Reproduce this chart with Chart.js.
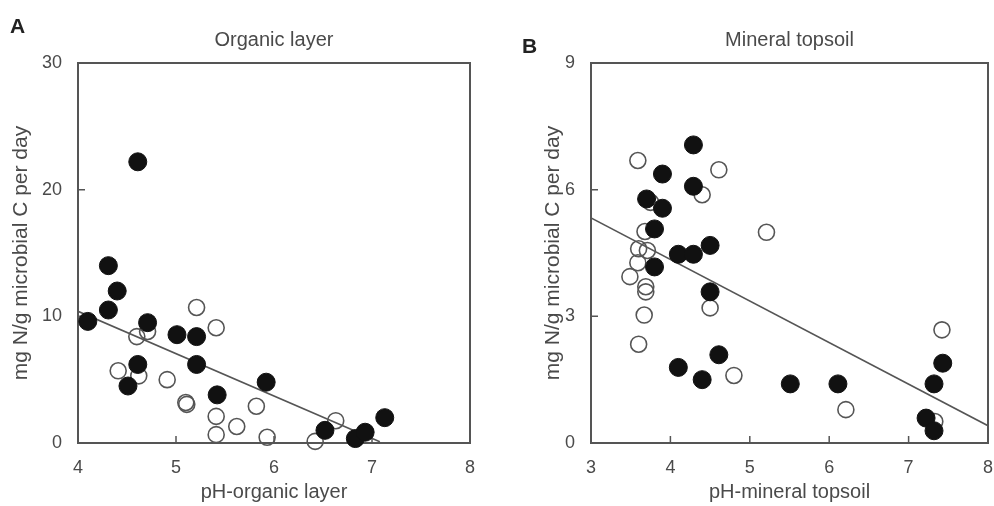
<!DOCTYPE html>
<html>
<head>
<meta charset="utf-8">
<script src="https://cdn.jsdelivr.net/npm/chart.js@4.4.1/dist/chart.umd.min.js"></script>
<style>
  body { margin: 0; background: #fff; overflow: hidden; }
  #wrap { position: relative; width: 994px; height: 506px; overflow: hidden; }
  canvas { position: absolute; top: 0; }
  .panel { position: absolute; font: bold 21px "Liberation Sans", Arial, sans-serif; color: #222; line-height: 1; }
</style>
</head>
<body>
<div id="wrap">
  <canvas id="chartA" width="497" height="506" style="left:0"></canvas>
  <canvas id="chartB" width="501" height="506" style="left:497px"></canvas>
  <div class="panel" style="left:10px;top:15px">A</div>
  <div class="panel" style="left:522px;top:35px">B</div>
</div>
<script>
// A: organic layer
const orgPhFilled   = [4.61, 4.31, 4.40, 4.31, 4.10, 4.71, 5.01, 5.21, 5.21, 4.61, 4.51, 5.42, 5.92, 6.52, 6.83, 6.93, 7.13];
const orgRateFilled = [22.2, 14.0, 12.0, 10.5, 9.6, 9.5, 8.55, 8.4, 6.2, 6.2, 4.5, 3.8, 4.8, 1.0, 0.35, 0.85, 2.0];
const orgPhOpen     = [5.21, 5.41, 4.60, 4.71, 4.41, 4.62, 4.91, 5.10, 5.11, 5.82, 5.41, 5.62, 5.41, 5.93, 6.42, 6.63];
const orgRateOpen   = [10.7, 9.1, 8.4, 8.8, 5.7, 5.3, 5.0, 3.2, 3.05, 2.9, 2.1, 1.3, 0.66, 0.45, 0.13, 1.76];
const orgFitPh   = [4, 7.08];
const orgFitRate = [10.4, 0.1];

// B: mineral topsoil
const minPhFilled   = [4.29, 3.90, 4.29, 3.70, 3.90, 3.80, 4.10, 4.29, 4.50, 3.80, 4.50, 4.10, 4.40, 4.61, 5.51, 6.11, 7.32, 7.43, 7.22, 7.32];
const minRateFilled = [7.06, 6.37, 6.08, 5.78, 5.56, 5.07, 4.47, 4.47, 4.68, 4.17, 3.58, 1.79, 1.50, 2.09, 1.40, 1.40, 1.40, 1.89, 0.59, 0.29];
const minPhOpen     = [3.59, 4.61, 4.40, 5.21, 3.75, 3.68, 3.71, 3.60, 3.59, 3.49, 3.69, 3.69, 3.67, 3.60, 4.50, 4.80, 6.21, 7.42, 7.33];
const minRateOpen   = [6.69, 6.47, 5.88, 4.99, 5.7, 5.01, 4.56, 4.6, 4.27, 3.94, 3.7, 3.58, 3.03, 2.34, 3.2, 1.6, 0.79, 2.68, 0.51];
const minFitPh   = [3, 8];
const minFitRate = [5.33, 0.41];

const yTitle = 'mg N/g microbial C per day';
const fontFam = '"Liberation Sans", Arial, sans-serif';
const ink = '#4a4a4a';

function pts(xs, ys) {
  return xs.map((x, i) => ({ x: x, y: ys[i] }));
}

// box around the plot plus inward tick marks
const frame = {
  id: 'frame',
  beforeDatasetsDraw(chart) {
    const { ctx, chartArea: a, scales } = chart;
    ctx.save();
    ctx.strokeStyle = '#555';
    ctx.lineWidth = 2;
    ctx.strokeRect(a.left, a.top, a.right - a.left, a.bottom - a.top);
    ctx.lineWidth = 1.5;
    ctx.beginPath();
    scales.x.ticks.forEach(t => {
      const px = scales.x.getPixelForValue(t.value);
      ctx.moveTo(px, a.bottom);
      ctx.lineTo(px, a.bottom - 7);
    });
    scales.y.ticks.forEach(t => {
      const py = scales.y.getPixelForValue(t.value);
      ctx.moveTo(a.left, py);
      ctx.lineTo(a.left + 7, py);
    });
    ctx.stroke();
    ctx.restore();
  }
};

function makeChart(id, o) {
  return new Chart(document.getElementById(id), {
    type: 'scatter',
    data: {
      datasets: [
        {
          data: pts(o.fx, o.fy),
          backgroundColor: '#111',
          borderColor: '#111',
          borderWidth: 1,
          pointRadius: 9,
          clip: false
        },
        {
          data: pts(o.ox, o.oy),
          backgroundColor: 'rgba(0,0,0,0)',
          borderColor: '#555',
          borderWidth: 1.6,
          pointRadius: 8,
          clip: false
        },
        {
          type: 'line',
          data: pts(o.lx, o.ly),
          borderColor: '#555',
          borderWidth: 1.6,
          pointRadius: 0,
          fill: false
        }
      ]
    },
    options: {
      responsive: false,
      animation: false,
      layout: { padding: { left: 0, right: o.padRight, top: 0, bottom: 0 } },
      plugins: {
        legend: { display: false },
        tooltip: { enabled: false },
        title: {
          display: true,
          text: o.title,
          fullSize: false,
          color: ink,
          font: { family: fontFam, size: 20, weight: 'normal' },
          padding: { top: 28, bottom: 11 }
        }
      },
      scales: {
        x: {
          type: 'linear',
          min: o.xMin, max: o.xMax,
          ticks: { stepSize: 1, color: ink, padding: 14, font: { family: fontFam, size: 18 } },
          grid: { display: false, drawTicks: false },
          border: { display: false },
          title: {
            display: true, text: o.xTitle, color: ink,
            font: { family: fontFam, size: 20 },
            padding: { top: 2, bottom: 2 }
          },
          afterFit(s) { s.height = 63; s.paddingLeft = 0; s.paddingRight = 0; }
        },
        y: {
          type: 'linear',
          min: 0, max: o.yMax,
          ticks: { stepSize: o.yStep, color: ink, padding: 16, font: { family: fontFam, size: 18 } },
          grid: { display: false, drawTicks: false },
          border: { display: false },
          title: {
            display: true, text: yTitle, color: ink,
            font: { family: fontFam, size: 21 },
            padding: { top: o.yTitlePad, bottom: 0 }
          },
          afterFit(s) { s.width = o.yWidth; s.paddingTop = 0; s.paddingBottom = 0; }
        }
      }
    },
    plugins: [frame]
  });
}

makeChart('chartA', {
  fx: orgPhFilled, fy: orgRateFilled, ox: orgPhOpen, oy: orgRateOpen,
  lx: orgFitPh, ly: orgFitRate,
  title: 'Organic layer', xTitle: 'pH-organic layer',
  xMin: 4, xMax: 8, yMax: 30, yStep: 10,
  yWidth: 78, yTitlePad: 9, padRight: 27
});

makeChart('chartB', {
  fx: minPhFilled, fy: minRateFilled, ox: minPhOpen, oy: minRateOpen,
  lx: minFitPh, ly: minFitRate,
  title: 'Mineral topsoil', xTitle: 'pH-mineral topsoil',
  xMin: 3, xMax: 8, yMax: 9, yStep: 3,
  yWidth: 94, yTitlePad: 44, padRight: 0
});
</script>
</body>
</html>
